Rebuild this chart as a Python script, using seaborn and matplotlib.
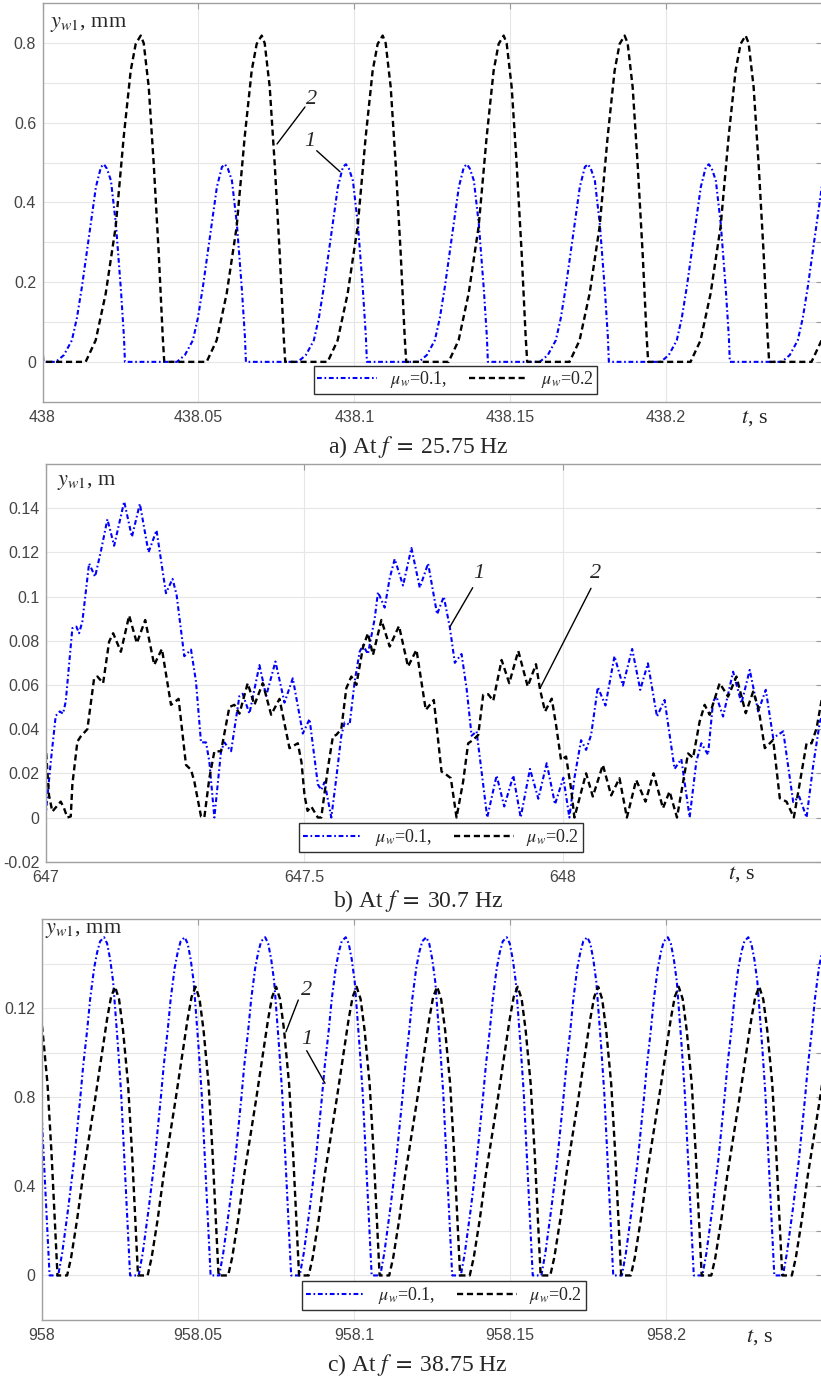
import numpy as np
import pandas as pd
import matplotlib
matplotlib.use("Agg")
import matplotlib.pyplot as plt
import seaborn as sns
from matplotlib.lines import Line2D

# ---------------------------------------------------------------- data
# Panel a) f = 25.75 Hz : one cycle shape (offset from peak, s) + peak times
a_blue_peaks = [437.9809, 438.0197, 438.0585, 438.0973, 438.1361, 438.1749, 438.2137, 438.2525]
a_blue_dt = [-0.01541, -0.01284, -0.01028, -0.00867, -0.00706, -0.00482, -0.00257, -0.00096,
             0.0, 0.00096, 0.00225, 0.00385, 0.00546, 0.00642, 0.00674]
a_blue_val = [0, 0.017, 0.054, 0.11, 0.188, 0.313, 0.439, 0.489,
              0.496, 0.485, 0.455, 0.345, 0.18, 0.063, 0]
a_black_peaks = [437.9927, 438.0315, 438.0703, 438.1091, 438.1479, 438.1867, 438.2255, 438.2643]
a_black_dt = [-0.01766, -0.01445, -0.01124, -0.00803, -0.00546, -0.00321, -0.00161,
              0.0, 0.00096, 0.00257, 0.00417, 0.00578, 0.00706, 0.00755]
a_black_val = [0, 0.054, 0.171, 0.339, 0.564, 0.731, 0.798,
               0.819, 0.80, 0.69, 0.497, 0.272, 0.063, 0]

# Panel b) f = 30.7 Hz : (t, y) points
b_blue_pts = [
    (647.0000, 0), (647.0101, 0.025), (647.0197, 0.046), (647.0275, 0.048), (647.0339, 0.047),
    (647.0391, 0.0525), (647.0519, 0.0857), (647.0596, 0.0864), (647.0648, 0.0834), (647.0712, 0.0887),
    (647.0842, 0.115), (647.0958, 0.109), (647.1069, 0.1204), (647.1196, 0.135), (647.1326, 0.123),
    (647.1520, 0.143), (647.1669, 0.127), (647.1823, 0.142), (647.1990, 0.120), (647.2145, 0.130),
    (647.2327, 0.1015), (647.2454, 0.108), (647.2532, 0.1008), (647.2681, 0.073), (647.2811, 0.076),
    (647.2907, 0.0615), (647.3004, 0.034), (647.3101, 0.034), (647.3165, 0.0253), (647.3262, 0),
    (647.3391, 0.030), (647.3455, 0.034), (647.3585, 0.030), (647.3746, 0.055), (647.3809, 0.056),
    (647.3939, 0.047), (647.4133, 0.069), (647.4262, 0.055), (647.4442, 0.0706), (647.4617, 0.052),
    (647.4777, 0.063), (647.4971, 0.038), (647.5101, 0.0446), (647.5261, 0.015), (647.5327, 0.0125),
    (647.5391, 0.016), (647.5521, 0), (647.5617, 0.0178), (647.5714, 0.037), (647.5778, 0.043),
    (647.5875, 0.042), (647.5972, 0.0615), (647.6068, 0.075), (647.6132, 0.078), (647.6229, 0.074),
    (647.6359, 0.090), (647.6423, 0.102), (647.6552, 0.095), (647.6649, 0.1083), (647.6746, 0.117),
    (647.6907, 0.105), (647.7069, 0.122), (647.7230, 0.104), (647.7391, 0.115), (647.7565, 0.092),
    (647.7694, 0.100), (647.7811, 0.086), (647.7907, 0.070), (647.8037, 0.074), (647.8134, 0.0585),
    (647.8231, 0.037), (647.8327, 0.039), (647.8424, 0.0208), (647.8533, 0), (647.8714, 0.019),
    (647.8862, 0.005), (647.9036, 0.019), (647.9179, 0), (647.9359, 0.022), (647.9520, 0.0085),
    (647.9682, 0.0246), (647.9843, 0.006), (648.0004, 0.018), (648.0120, 0), (648.0217, 0.0178),
    (648.0346, 0.035), (648.0443, 0.0306), (648.0540, 0.0374), (648.0670, 0.059), (648.0817, 0.0507),
    (648.0991, 0.073), (648.1154, 0.0597), (648.1333, 0.0763), (648.1489, 0.0578), (648.1637, 0.0698),
    (648.1812, 0.0457), (648.1959, 0.0532), (648.2152, 0.022), (648.2282, 0.0265), (648.2443, 0),
    (648.2572, 0.0253), (648.2669, 0.0336), (648.2799, 0.0284), (648.2896, 0.0525), (648.2960, 0.0548),
    (648.3089, 0.0457), (648.3283, 0.066), (648.3444, 0.0517), (648.3604, 0.0668), (648.3767, 0.048),
    (648.3914, 0.0578), (648.4057, 0.036), (648.4251, 0.039), (648.4444, 0.007), (648.4560, 0.0095),
    (648.4702, 0), (648.4831, 0.0238), (648.4959, 0.0434), (648.5000, 0.046),
]
b_black_pts = [
    (647.0000, 0.0336), (647.0068, 0.010), (647.0132, 0.0027), (647.0294, 0.0072), (647.0358, 0.0042),
    (647.0422, 0), (647.0488, 0.0005), (647.0519, 0.015), (647.0616, 0.0344), (647.0681, 0.0367),
    (647.0809, 0.040), (647.0939, 0.063), (647.1003, 0.0638), (647.1113, 0.0608), (647.1229, 0.0796),
    (647.1307, 0.0834), (647.1456, 0.075), (647.1616, 0.0914), (647.1765, 0.0789), (647.1926, 0.0894),
    (647.2100, 0.0691), (647.2249, 0.0763), (647.2424, 0.051), (647.2571, 0.0537), (647.2714, 0.0238),
    (647.2811, 0.0216), (647.2875, 0.0163), (647.3004, 0.0005), (647.3068, 0), (647.3165, 0.0178),
    (647.3262, 0.0299), (647.3391, 0.030), (647.3552, 0.050), (647.3649, 0.051), (647.3746, 0.047),
    (647.3906, 0.0608), (647.4036, 0.051), (647.4197, 0.0608), (647.4359, 0.0465), (647.4520, 0.0537),
    (647.4713, 0.0314), (647.4874, 0.0336), (647.4945, 0.025), (647.5004, 0.010), (647.5062, 0.003),
    (647.5133, 0.005), (647.5261, 0), (647.5327, 0), (647.5455, 0.0223), (647.5552, 0.0367),
    (647.5617, 0.0374), (647.5714, 0.040), (647.5811, 0.0585), (647.5908, 0.0638), (647.6005, 0.060),
    (647.6132, 0.077), (647.6229, 0.0834), (647.6326, 0.0736), (647.6488, 0.0894), (647.6649, 0.0774),
    (647.6829, 0.0867), (647.7003, 0.0683), (647.7166, 0.0759), (647.7346, 0.0487), (647.7501, 0.0532),
    (647.7650, 0.0208), (647.7747, 0.0193), (647.7830, 0.0178), (647.7940, 0), (647.8068, 0.0163),
    (647.8165, 0.0336), (647.8262, 0.0351), (647.8359, 0.0374), (647.8455, 0.0555), (647.8552, 0.0558),
    (647.8649, 0.0528), (647.8811, 0.0713), (647.8958, 0.0608), (647.9133, 0.0754), (647.9315, 0.0593),
    (647.9475, 0.0694), (647.9553, 0.058), (647.9650, 0.048), (647.9779, 0.0538), (647.9862, 0.042),
    (647.9959, 0.026), (648.0056, 0.0276), (648.0153, 0.013), (648.0217, 0), (648.0443, 0.020),
    (648.0573, 0.0095), (648.0767, 0.0238), (648.0927, 0.010), (648.1088, 0.0178), (648.1231, 0),
    (648.1411, 0.017), (648.1591, 0.0072), (648.1746, 0.020), (648.1928, 0.0042), (648.2055, 0.0118),
    (648.2199, 0), (648.2412, 0.029), (648.2509, 0.027), (648.2636, 0.0434), (648.2733, 0.051),
    (648.2830, 0.0465), (648.3023, 0.0608), (648.3186, 0.0547), (648.3347, 0.0638), (648.3527, 0.0472),
    (648.3670, 0.057), (648.3773, 0.0495), (648.3895, 0.0314), (648.4057, 0.0351), (648.4185, 0.0087),
    (648.4314, 0.0072), (648.4456, 0), (648.4702, 0.0336), (648.4799, 0.0336), (648.4895, 0.0404),
    (648.4993, 0.0532),
]

# Panel c) f = 38.75 Hz : one cycle shape + peak times
c_blue_peaks = [957.9942, 958.0200, 958.0458, 958.0716, 958.0974, 958.1232,
                958.1490, 958.1748, 958.2006, 958.2264, 958.2522]
c_blue_dt = [-0.01472, -0.01344, -0.01152, -0.0096, -0.00768, -0.00672, -0.00544, -0.00448,
             -0.0032, -0.00224, -0.00128, 0.0, 0.00096, 0.00192, 0.00288, 0.00448, 0.00544,
             0.0064, 0.00736, 0.00832]
c_blue_val = [0, 0.1, 0.3, 0.52, 0.79, 0.94, 1.1, 1.24, 1.38, 1.45, 1.5, 1.518, 1.49, 1.42,
              1.32, 1.02, 0.82, 0.55, 0.27, 0]
c_black_peaks = [957.9977, 958.0235, 958.0493, 958.0751, 958.1009, 958.1267,
                 958.1525, 958.1783, 958.2041, 958.2299, 958.2557]
c_black_dt = [-0.01536, -0.01408, -0.01216, -0.01024, -0.00832, -0.0064, -0.0048, -0.00352,
              -0.00256, -0.00128, 0.0, 0.00128, 0.00256, 0.00416, 0.00544, 0.0064, 0.00736]
c_black_val = [0, 0.08, 0.25, 0.45, 0.62, 0.79, 0.94, 1.06, 1.15, 1.25, 1.296, 1.24, 1.10,
               0.86, 0.55, 0.28, 0]

legend_labels = [r"$\mu_w$=0.1,", r"$\mu_w$=0.2"]
captions = [r"a) At $f\;=\;$25.75 Hz", r"b) At $f\;=\;$30.7 Hz", r"c) At $f\;=\;$38.75 Hz"]
ylabels = [r"$y_{w\mathit{1}}$, mm", r"$y_{w\mathit{1}}$, m", r"$y_{w\mathit{1}}$, mm"]

# ---------------------------------------------------------------- style
sns.set_theme(style="white")
plt.rcParams["font.family"] = ["Liberation Sans", "DejaVu Sans"]
plt.rcParams["mathtext.fontset"] = "stix"

W, H = 821, 1378
fig = plt.figure(figsize=(W / 100, H / 100), dpi=100)
fig.patch.set_facecolor("white")


def fx(x):
    return x / W


def fy(y):
    return 1 - y / H


def make_ax(left, top, right, bottom):
    return fig.add_axes([fx(left), fy(bottom), fx(right) - fx(left), fy(top) - fy(bottom)])


SERIF = ["Liberation Serif", "DejaVu Serif"]
BLUE = "#0000ff"
BLUE_LS = (0, (2.3, 1.3, 0.8, 1.3))
BLACK_LS = (0, (2.6, 1.6))


def tile(peaks, dt, val):
    t = np.concatenate([p + np.asarray(dt) for p in peaks])
    y = np.tile(np.asarray(val, dtype=float), len(peaks))
    return t, y


def style(ax, xlim, ylim, xticks, xlabels, yticks, ylabels_):
    ax.set_xlim(*xlim)
    ax.set_ylim(*ylim)
    ax.set_xticks(xticks)
    ax.set_xticklabels(xlabels)
    ax.set_yticks(yticks)
    ax.set_yticklabels(ylabels_)
    ax.set_xlabel("")
    ax.set_ylabel("")
    for s in ax.spines.values():
        s.set_color("#a0a0a0")
        s.set_linewidth(1.0)
    ax.tick_params(axis="both", direction="in", length=4, width=0.8, color="#9a9a9a",
                   labelcolor="#444444", labelsize=11.5, top=True, right=True)
    ax.tick_params(axis="x", pad=6)
    ax.tick_params(axis="y", pad=4.5)
    ax.grid(True, color="#e6e6e6", linewidth=0.8)
    ax.set_axisbelow(True)


def draw(ax, t1, y1, t2, y2):
    sns.lineplot(x=t1, y=y1, ax=ax, color=BLUE, linewidth=1.5, linestyle=BLUE_LS,
                 sort=False, estimator=None, legend=False)
    sns.lineplot(x=t2, y=y2, ax=ax, color="black", linewidth=1.7, linestyle=BLACK_LS,
                 sort=False, estimator=None, legend=False)


def legend(ax, cx, cy):
    h1 = Line2D([], [], color=BLUE, linewidth=1.5, linestyle=BLUE_LS)
    h2 = Line2D([], [], color="black", linewidth=1.7, linestyle=BLACK_LS)
    leg = ax.legend([h1, h2], legend_labels, loc="center", bbox_to_anchor=(fx(cx), fy(cy)),
                    bbox_transform=fig.transFigure, ncol=2, frameon=True, fancybox=False,
                    edgecolor="#303030", framealpha=1, prop={"family": SERIF, "size": 13},
                    handlelength=3.3, handletextpad=0.7, columnspacing=1.2, borderpad=0.2,
                    borderaxespad=0)
    leg.get_frame().set_linewidth(1.0)


def label_line(tx, ty, text, x0, y0, x1, y1):
    fig.text(fx(tx), fy(ty), text, ha="center", va="center", family=SERIF,
             style="italic", size=16)
    fig.add_artist(Line2D([fx(x0), fx(x1)], [fy(y0), fy(y1)], color="black",
                          linewidth=1.0, transform=fig.transFigure))


# ---------------------------------------------------------------- panel a
ax_a = make_ax(42.5, 3.3, 822, 401.7)
ta1, ya1 = tile(a_blue_peaks, a_blue_dt, a_blue_val)
ta2, ya2 = tile(a_black_peaks, a_black_dt, a_black_val)
draw(ax_a, ta1, ya1, ta2, ya2)
style(ax_a, (438.0, 438.25), (-0.1, 0.9),
      [438.0, 438.05, 438.1, 438.15, 438.2], ["438", "438.05", "438.1", "438.15", "438.2"],
      [0, 0.1, 0.2, 0.3, 0.4, 0.5, 0.6, 0.7, 0.8], ["0", "", "0.2", "", "0.4", "", "0.6", "", "0.8"])
legend(ax_a, 455.5, 380)
label_line(312, 100, "2", 305, 107, 277, 144)
label_line(310, 141.7, "1", 316.7, 150.7, 340, 171.7)

# ---------------------------------------------------------------- panel b
ax_b = make_ax(45.5, 464, 822, 861.7)
tb1, yb1 = zip(*b_blue_pts)
tb2, yb2 = zip(*b_black_pts)
draw(ax_b, np.array(tb1), np.array(yb1), np.array(tb2), np.array(yb2))
style(ax_b, (647.0, 648.5), (-0.02, 0.16),
      [647.0, 647.5, 648.0], ["647", "647.5", "648"],
      [-0.02, 0, 0.02, 0.04, 0.06, 0.08, 0.10, 0.12, 0.14],
      ["-0.02", "0", "0.02", "0.04", "0.06", "0.08", "0.1", "0.12", "0.14"])
legend(ax_b, 441, 837.5)
label_line(478.3, 573.7, "1", 472.7, 587.7, 450, 626.7)
label_line(596, 573.3, "2", 591, 588.3, 540, 688.3)

# ---------------------------------------------------------------- panel c
ax_c = make_ax(41.7, 919, 822, 1320)
tc1, yc1 = tile(c_blue_peaks, c_blue_dt, c_blue_val)
tc2, yc2 = tile(c_black_peaks, c_black_dt, c_black_val)
draw(ax_c, tc1, yc1, tc2, yc2)
style(ax_c, (958.0, 958.25), (-0.2, 1.6),
      [958.0, 958.05, 958.1, 958.15, 958.2], ["958", "958.05", "958.1", "958.15", "958.2"],
      [0, 0.2, 0.4, 0.6, 0.8, 1.0, 1.2, 1.4], ["0", "", "0.4", "", "0.8", "", "0.12", ""])
legend(ax_c, 444, 1295.5)
label_line(306.7, 990.7, "2", 298.3, 1000, 286, 1031.7)
label_line(307, 1040, "1", 306.7, 1050.7, 325, 1083.3)

# ---------------------------------------------------------------- texts
for (x, y), s in zip([(50, 25), (57, 482), (45, 930)], ylabels):
    fig.text(fx(x), fy(y), s, ha="left", va="center", family=SERIF, size=16)
for (x, y), s in zip([(418, 446.7), (418, 901), (417, 1365)], captions):
    fig.text(fx(x), fy(y), s, ha="center", va="center", family=SERIF, size=17)
for x, y in [(755, 418), (742, 874), (760, 1337)]:
    fig.text(fx(x), fy(y), r"$t$, s", ha="center", va="center", family=SERIF, size=16)

fig.savefig("out.png", dpi=100, facecolor="white")
